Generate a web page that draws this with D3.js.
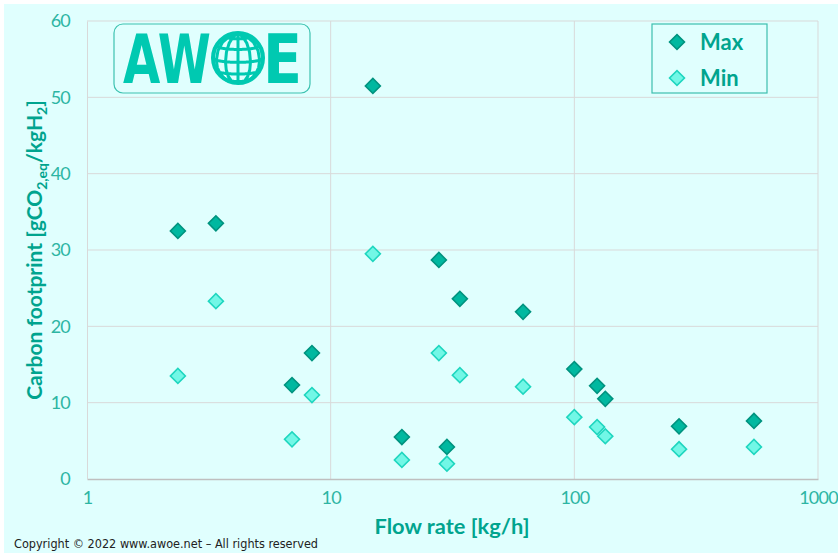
<!DOCTYPE html>
<html>
<head>
<meta charset="utf-8">
<script src="https://cdn.jsdelivr.net/npm/d3@7/dist/d3.min.js"></script>
<style>
  html, body { margin: 0; padding: 0; background: #ffffff; }
  svg { display: block; }
</style>
</head>
<body>
<svg id="chart" width="838" height="553"></svg>
<script>
// Hydrogen production: flow rate vs. carbon footprint (max / min estimates)
const flowRate = [2.36, 3.38, 6.94, 8.38, 14.9, 19.6, 27.8, 30.0, 33.9, 61.6, 100, 124, 134, 269, 546];
const footprintMax = [32.5, 33.5, 12.3, 16.5, 51.5, 5.5, 28.7, 4.2, 23.6, 21.9, 14.4, 12.2, 10.5, 6.9, 7.6];
const footprintMin = [13.5, 23.3, 5.2, 11.0, 29.5, 2.5, 16.5, 2.0, 13.6, 12.1, 8.1, 6.8, 5.6, 3.9, 4.2];
const xTicks = [1, 10, 100, 1000];
const yTicks = [0, 10, 20, 30, 40, 50, 60];
const seriesNames = ["Max", "Min"];

const W = 838, H = 553;
const svg = d3.select("#chart");

const bg = "#e0fffe";
const titleColor = "#00a48e";
const tickColor = "#2db5a3";
const gridColor = "#d9d9d9";
const styles = {
  Max: { fill: "#00b8a0", stroke: "#00937f" },
  Min: { fill: "#72f7e6", stroke: "#1fd6bf" }
};

svg.append("rect").attr("x", 4).attr("y", 4).attr("width", W - 4).attr("height", H - 4).attr("fill", bg);

const x = d3.scaleLog().domain([1, 1000]).range([87, 818]);
const y = d3.scaleLinear().domain([0, 60]).range([479, 21]);

// gridlines
const grid = svg.append("g");
grid.selectAll(".hg").data(yTicks.filter(d => d > 0)).join("line")
  .attr("x1", x(1)).attr("x2", x(1000))
  .attr("y1", d => y(d)).attr("y2", d => y(d))
  .attr("stroke", gridColor).attr("stroke-width", 1);
grid.selectAll(".vg").data(xTicks.filter(d => d > 1)).join("line")
  .attr("x1", d => x(d)).attr("x2", d => x(d))
  .attr("y1", y(0)).attr("y2", y(60))
  .attr("stroke", gridColor).attr("stroke-width", 1);

// axes
const xAxis = svg.append("g").attr("transform", `translate(0,${y(0)})`)
  .call(d3.axisBottom(x).tickValues(xTicks).tickFormat(d3.format("d")).tickSize(0).tickPadding(12));
const yAxis = svg.append("g").attr("transform", `translate(${x(1)},0)`)
  .call(d3.axisLeft(y).tickValues(yTicks).tickSize(0).tickPadding(17));
xAxis.select(".domain").attr("stroke", "#bfbfbf").attr("stroke-width", 1.5);
yAxis.select(".domain").attr("stroke", gridColor);
[xAxis, yAxis].forEach(a => a.selectAll("text")
  .attr("fill", tickColor).attr("font-family", "Lato").attr("font-weight", 400).attr("font-size", 18)
  .attr("letter-spacing", -0.8));

// axis titles
svg.append("text").attr("x", 452).attr("y", 534).attr("text-anchor", "middle")
  .attr("font-family", "Lato").attr("font-weight", 700).attr("font-size", 21)
  .attr("textLength", 155).attr("lengthAdjust", "spacingAndGlyphs")
  .attr("fill", titleColor).text("Flow rate [kg/h]");

const yt = svg.append("text").attr("transform", "translate(42,250) rotate(-90)")
  .attr("text-anchor", "middle")
  .attr("font-family", "Lato").attr("font-weight", 700).attr("font-size", 21)
  .attr("fill", titleColor);
yt.append("tspan").text("Carbon footprint [gCO");
yt.append("tspan").attr("font-size", 14).attr("dy", 5).text("2,eq");
yt.append("tspan").attr("dy", -5).text("/kgH");
yt.append("tspan").attr("font-size", 14).attr("dy", 5).text("2");
yt.append("tspan").attr("dy", -5).text("]");

// markers
const diamond = d3.symbol().type(d3.symbolSquare).size(112);
function drawSeries(values, name) {
  const st = styles[name];
  svg.append("g").selectAll("path").data(values).join("path")
    .attr("d", diamond)
    .attr("transform", (d, i) => `translate(${x(flowRate[i])},${y(d)}) rotate(45)`)
    .attr("fill", st.fill).attr("stroke", st.stroke).attr("stroke-width", 1.6);
}
drawSeries(footprintMin, "Min");
drawSeries(footprintMax, "Max");

// legend
const lg = svg.append("g");
lg.append("rect").attr("x", 652).attr("y", 24).attr("width", 115).attr("height", 69)
  .attr("fill", bg).attr("stroke", "#3cbfae").attr("stroke-width", 1.2);
seriesNames.forEach((name, i) => {
  const cy = 42 + i * 36;
  lg.append("path").attr("d", diamond)
    .attr("transform", `translate(677,${cy}) rotate(45)`)
    .attr("fill", styles[name].fill).attr("stroke", styles[name].stroke).attr("stroke-width", 1.6);
  lg.append("text").attr("x", 700).attr("y", cy + 8)
    .attr("font-family", "Lato").attr("font-weight", 700).attr("font-size", 22)
    .attr("fill", titleColor).text(name);
});

// AWOE logo
const logo = svg.append("g");
const logoColor = "#00c9b1";
logo.append("rect").attr("x", 114).attr("y", 24).attr("width", 196).attr("height", 69).attr("rx", 9)
  .attr("fill", bg).attr("stroke", "#3cc2b0").attr("stroke-width", 1.2);
logo.append("text").attr("x", 123).attr("y", 83)
  .attr("font-family", "DejaVu Sans Condensed").attr("font-weight", 700).attr("font-size", 68)
  .attr("textLength", 88).attr("lengthAdjust", "spacingAndGlyphs")
  .attr("fill", logoColor).text("AW");
logo.append("text").attr("x", 263).attr("y", 83)
  .attr("font-family", "DejaVu Sans Condensed").attr("font-weight", 700).attr("font-size", 68)
  .attr("textLength", 39).attr("lengthAdjust", "spacingAndGlyphs")
  .attr("fill", logoColor).text("E");
const globeR = 25;
const proj = d3.geoOrthographic().scale(globeR).translate([238, 58]).rotate([0, -10]);
const gp = d3.geoPath(proj);
logo.append("path").datum(d3.geoGraticule().step([30, 30])())
  .attr("d", gp).attr("fill", "none").attr("stroke", logoColor).attr("stroke-width", 3);
logo.append("circle").attr("cx", 238).attr("cy", 58).attr("r", globeR)
  .attr("fill", "none").attr("stroke", logoColor).attr("stroke-width", 4);

// footer
svg.append("text").attr("x", 14).attr("y", 548)
  .attr("font-family", "DejaVu Sans Condensed").attr("font-size", 12)
  .attr("textLength", 304).attr("lengthAdjust", "spacingAndGlyphs")
  .attr("fill", "#222").text("Copyright © 2022 www.awoe.net – All rights reserved");
</script>
</body>
</html>
